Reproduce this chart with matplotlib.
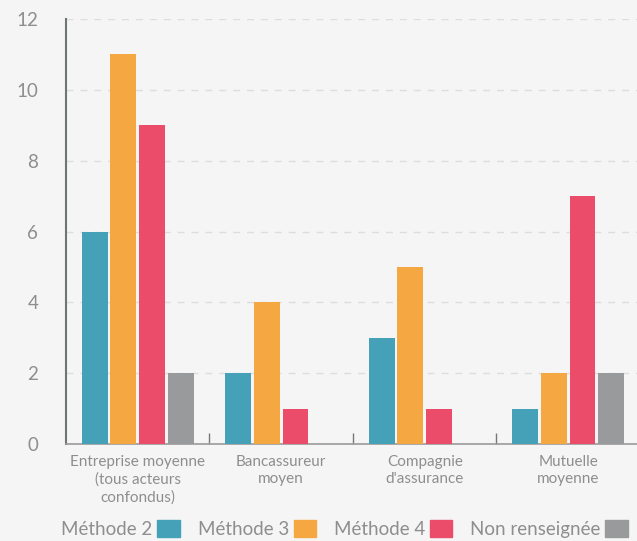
import matplotlib.pyplot as plt
import matplotlib.patches as mpatches
import numpy as np

categories = ["Entreprise moyenne\n(tous acteurs\nconfondus)", "Bancassureur\nmoyen",
              "Compagnie\nd'assurance", "Mutuelle\nmoyenne"]
series_names = ["Méthode 2", "Méthode 3", "Méthode 4", "Non renseignée"]
methode_2 = [6, 2, 3, 1]
methode_3 = [11, 4, 5, 2]
methode_4 = [9, 1, 1, 7]
non_renseignee = [2, 0, 0, 2]
y_ticks = [0, 2, 4, 6, 8, 10, 12]

colors = ['#45A1B7', '#F5A742', '#EA4C6A', '#999A9C']
bg = '#F5F5F5'
text_grey = '#8E8E8E'

plt.rcParams['font.family'] = ['Lato', 'DejaVu Sans']

fig = plt.figure(figsize=(6.37, 5.41), dpi=100, facecolor=bg)
ax = fig.add_axes([0.1036, 0.179, 0.901, 0.786], facecolor=bg)

x = np.arange(len(categories))
step = 0.2
width = 0.18
all_series = [methode_2, methode_3, methode_4, non_renseignee]
for i, (vals, col) in enumerate(zip(all_series, colors)):
    offs = (i - 1.5) * step
    for xi, v in zip(x, vals):
        if v > 0:
            ax.bar(xi + offs, v, width=width, color=col, zorder=3)

ax.set_xlim(-0.5, len(categories) - 0.5)
ax.set_ylim(0, 12)
ax.set_yticks(y_ticks)
ax.set_yticklabels([str(t) for t in y_ticks], fontsize=13.5, color=text_grey)
ax.tick_params(axis='y', length=0, pad=20)
ax.yaxis.grid(True, linestyle=(0, (5, 5)), color='#DDDDDD', linewidth=1, zorder=0)

# category boundaries get small inward ticks, labels sit at the centres
ax.set_xticks(x[:-1] + 0.5)
ax.set_xticklabels([])
ax.tick_params(axis='x', direction='in', length=8, color='#777777', width=1)
for xi, lab in zip(x, categories):
    ax.text(xi, -0.3, lab, ha='center', va='top', fontsize=11, color=text_grey,
            linespacing=1.3)

for s in ['top', 'right']:
    ax.spines[s].set_visible(False)
ax.spines['left'].set_color('#6F7476')
ax.spines['left'].set_linewidth(1.5)
ax.spines['bottom'].set_color('#9A9A9A')
ax.spines['bottom'].set_linewidth(1.2)

handles = [mpatches.Patch(color=c, label=n) for c, n in zip(colors, series_names)]
leg = fig.legend(handles=handles, loc='lower center', bbox_to_anchor=(0.541, -0.026), ncol=4,
                 frameon=False, markerfirst=False, fontsize=13.5, handlelength=1.2,
                 handleheight=1.0, handletextpad=0.25, columnspacing=0.95)
for t in leg.get_texts():
    t.set_color(text_grey)

fig.savefig('out.png', dpi=100, facecolor=bg)
